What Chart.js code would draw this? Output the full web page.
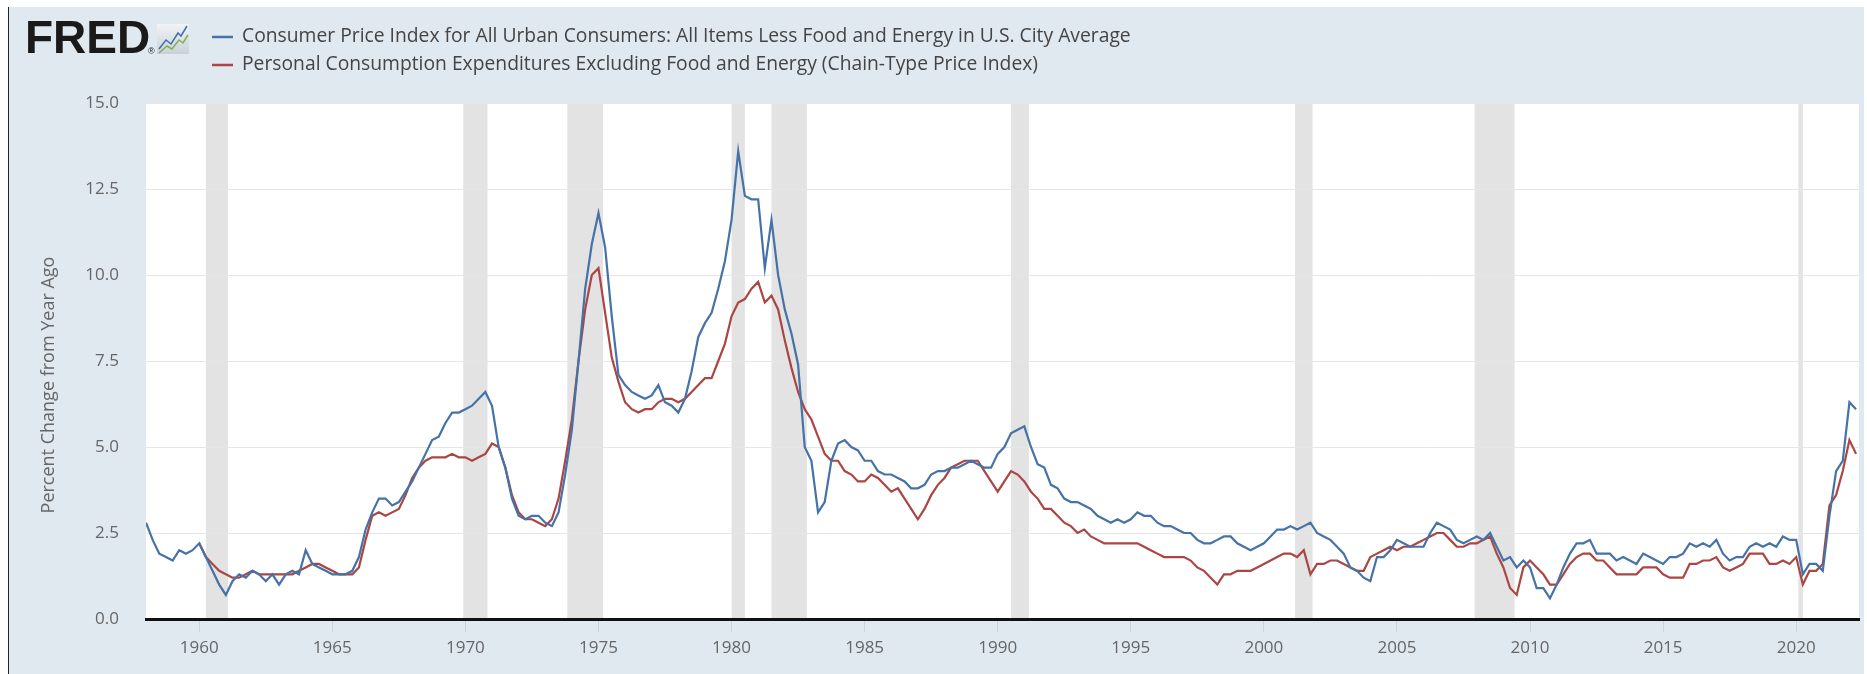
<!DOCTYPE html>
<html>
<head>
<meta charset="utf-8">
<title>FRED core CPI vs core PCE</title>
<script src="https://cdn.jsdelivr.net/npm/chart.js@4.4.1/dist/chart.umd.min.js"></script>
<style>
    html, body { margin: 0; padding: 0; background: #fff; }
    #wrap { position: absolute; left: 8px; top: 7px; width: 1855px; height: 667px; background: #e1e9f0; border-left: 1px solid #222; }
    #chart { display: block; }
</style>
</head>
<body>
<div id="wrap"><canvas id="chart" width="1855" height="667"></canvas></div>
<script>
    // quarterly readings (Jan, Apr, Jul, Oct), percent change from year ago
    const cpiStart = 1958;
    const cpiCore = [
        2.8, 2.3, 1.9, 1.8,   1.7, 2.0, 1.9, 2.0,   2.2, 1.8, 1.4, 1.0,
        0.7, 1.1, 1.3, 1.2,   1.4, 1.3, 1.1, 1.3,   1.0, 1.3, 1.4, 1.3,
        2.0, 1.6, 1.5, 1.4,   1.3, 1.3, 1.3, 1.4,   1.8, 2.6, 3.1, 3.5,
        3.5, 3.3, 3.4, 3.7,   4.0, 4.4, 4.8, 5.2,   5.3, 5.7, 6.0, 6.0,
        6.1, 6.2, 6.4, 6.6,   6.2, 5.0, 4.4, 3.5,   3.0, 2.9, 3.0, 3.0,
        2.8, 2.7, 3.1, 4.2,   5.5, 7.5, 9.6, 10.9,  11.8, 10.8, 8.8, 7.1,
        6.8, 6.6, 6.5, 6.4,   6.5, 6.8, 6.3, 6.2,   6.0, 6.4, 7.2, 8.2,
        8.6, 8.9, 9.6, 10.4,  11.6, 13.6, 12.3, 12.2, 12.2, 10.2, 11.6, 10.0,
        9.0, 8.3, 7.4, 5.0,   4.6, 3.1, 3.4, 4.6,   5.1, 5.2, 5.0, 4.9,
        4.6, 4.6, 4.3, 4.2,   4.2, 4.1, 4.0, 3.8,   3.8, 3.9, 4.2, 4.3,
        4.3, 4.4, 4.4, 4.5,   4.6, 4.5, 4.4, 4.4,   4.8, 5.0, 5.4, 5.5,
        5.6, 5.0, 4.5, 4.4,   3.9, 3.8, 3.5, 3.4,   3.4, 3.3, 3.2, 3.0,
        2.9, 2.8, 2.9, 2.8,   2.9, 3.1, 3.0, 3.0,   2.8, 2.7, 2.7, 2.6,
        2.5, 2.5, 2.3, 2.2,   2.2, 2.3, 2.4, 2.4,   2.2, 2.1, 2.0, 2.1,
        2.2, 2.4, 2.6, 2.6,   2.7, 2.6, 2.7, 2.8,   2.5, 2.4, 2.3, 2.1,
        1.9, 1.5, 1.4, 1.2,   1.1, 1.8, 1.8, 2.0,   2.3, 2.2, 2.1, 2.1,
        2.1, 2.5, 2.8, 2.7,   2.6, 2.3, 2.2, 2.3,   2.4, 2.3, 2.5, 2.1,
        1.7, 1.8, 1.5, 1.7,   1.5, 0.9, 0.9, 0.6,   1.0, 1.5, 1.9, 2.2,
        2.2, 2.3, 1.9, 1.9,   1.9, 1.7, 1.8, 1.7,   1.6, 1.9, 1.8, 1.7,
        1.6, 1.8, 1.8, 1.9,   2.2, 2.1, 2.2, 2.1,   2.3, 1.9, 1.7, 1.8,
        1.8, 2.1, 2.2, 2.1,   2.2, 2.1, 2.4, 2.3,   2.3, 1.3, 1.6, 1.6,
        1.4, 3.0, 4.3, 4.6,   6.3, 6.1
    ];
    const pceStart = 1960;
    const pceCore = [
        2.2, 1.8, 1.6, 1.4,
        1.3, 1.2, 1.2, 1.3,   1.4, 1.3, 1.3, 1.3,   1.3, 1.3, 1.3, 1.4,
        1.5, 1.6, 1.6, 1.5,   1.4, 1.3, 1.3, 1.3,   1.5, 2.3, 3.0, 3.1,
        3.0, 3.1, 3.2, 3.6,   4.1, 4.4, 4.6, 4.7,   4.7, 4.7, 4.8, 4.7,
        4.7, 4.6, 4.7, 4.8,   5.1, 5.0, 4.4, 3.6,   3.1, 2.9, 2.9, 2.8,
        2.7, 2.9, 3.5, 4.6,   5.8, 7.5, 9.0, 10.0,  10.2, 8.9, 7.6, 6.9,
        6.3, 6.1, 6.0, 6.1,   6.1, 6.3, 6.4, 6.4,   6.3, 6.4, 6.6, 6.8,
        7.0, 7.0, 7.5, 8.0,   8.8, 9.2, 9.3, 9.6,   9.8, 9.2, 9.4, 9.0,
        8.1, 7.3, 6.6, 6.1,   5.8, 5.3, 4.8, 4.6,   4.6, 4.3, 4.2, 4.0,
        4.0, 4.2, 4.1, 3.9,   3.7, 3.8, 3.5, 3.2,   2.9, 3.2, 3.6, 3.9,
        4.1, 4.4, 4.5, 4.6,   4.6, 4.6, 4.3, 4.0,   3.7, 4.0, 4.3, 4.2,
        4.0, 3.7, 3.5, 3.2,   3.2, 3.0, 2.8, 2.7,   2.5, 2.6, 2.4, 2.3,
        2.2, 2.2, 2.2, 2.2,   2.2, 2.2, 2.1, 2.0,   1.9, 1.8, 1.8, 1.8,
        1.8, 1.7, 1.5, 1.4,   1.2, 1.0, 1.3, 1.3,   1.4, 1.4, 1.4, 1.5,
        1.6, 1.7, 1.8, 1.9,   1.9, 1.8, 2.0, 1.3,   1.6, 1.6, 1.7, 1.7,
        1.6, 1.5, 1.4, 1.4,   1.8, 1.9, 2.0, 2.1,   2.0, 2.1, 2.1, 2.2,
        2.3, 2.4, 2.5, 2.5,   2.3, 2.1, 2.1, 2.2,   2.2, 2.3, 2.4, 1.9,
        1.5, 0.9, 0.7, 1.5,   1.7, 1.5, 1.3, 1.0,   1.0, 1.3, 1.6, 1.8,
        1.9, 1.9, 1.7, 1.7,   1.5, 1.3, 1.3, 1.3,   1.3, 1.5, 1.5, 1.5,
        1.3, 1.2, 1.2, 1.2,   1.6, 1.6, 1.7, 1.7,   1.8, 1.5, 1.4, 1.5,
        1.6, 1.9, 1.9, 1.9,   1.6, 1.6, 1.7, 1.6,   1.8, 1.0, 1.4, 1.4,
        1.6, 3.3, 3.6, 4.3,   5.2, 4.8
    ];
    const recessionStart = [1960.25, 1969.92, 1973.83, 1980.0, 1981.5, 1990.5, 2001.17, 2007.92, 2020.08];
    const recessionEnd   = [1961.08, 1970.83, 1975.17, 1980.5, 1982.83, 1991.17, 2001.83, 2009.42, 2020.25];
    const tickYears = [1960, 1965, 1970, 1975, 1980, 1985, 1990, 1995, 2000, 2005, 2010, 2015, 2020];
    const seriesNames = [
        'Consumer Price Index for All Urban Consumers: All Items Less Food and Energy in U.S. City Average',
        'Personal Consumption Expenditures Excluding Food and Energy (Chain-Type Price Index)'
    ];
    const seriesColors = ['#4572a7', '#aa4643'];
    const yTitle = 'Percent Change from Year Ago';

    function toPoints(start, vals) {
        return vals.map((v, k) => ({ x: start + k / 4, y: v }));
    }

    const FONT = '"Open Sans", "Noto Sans", sans-serif';

    const backdrop = {
        id: 'backdrop',
        beforeDraw(chart) {
            const { ctx, chartArea: a, scales } = chart;
            ctx.save();
            ctx.fillStyle = '#ffffff';
            ctx.fillRect(a.left, a.top, a.right - a.left, a.bottom - a.top);
            ctx.fillStyle = '#e3e3e3';
            for (let r = 0; r < recessionStart.length; r++) {
                const x1 = scales.x.getPixelForValue(recessionStart[r]);
                const x2 = scales.x.getPixelForValue(recessionEnd[r]);
                ctx.fillRect(x1, a.top, x2 - x1, a.bottom - a.top);
            }
            ctx.restore();
        }
    };

    const header = {
        id: 'header',
        afterDraw(chart) {
            const ctx = chart.ctx;
            ctx.save();
            // FRED logo
            ctx.fillStyle = '#1a1a1a';
            ctx.font = 'bold 46px "Liberation Sans", Arial, sans-serif';
            ctx.textBaseline = 'alphabetic';
            ctx.fillText('FRED', 16, 46);
            ctx.font = '9px "Liberation Sans", sans-serif';
            ctx.fillText('®', 139, 47);
            const g = ctx.createLinearGradient(148, 15, 148, 47);
            g.addColorStop(0, '#f4f6f8');
            g.addColorStop(1, '#c9d1d8');
            ctx.fillStyle = g;
            ctx.fillRect(148, 17, 32, 30);
            ctx.lineWidth = 1.5;
            ctx.strokeStyle = '#3f6fb0';
            ctx.beginPath();
            ctx.moveTo(150, 42); ctx.lineTo(157, 33); ctx.lineTo(162, 37); ctx.lineTo(169, 26); ctx.lineTo(172, 29); ctx.lineTo(178, 19);
            ctx.stroke();
            ctx.strokeStyle = '#7fb24a';
            ctx.beginPath();
            ctx.moveTo(150, 46); ctx.lineTo(158, 39); ctx.lineTo(163, 42); ctx.lineTo(170, 33); ctx.lineTo(174, 36); ctx.lineTo(179, 28);
            ctx.stroke();
            // legend lines
            ctx.font = '19.3px ' + FONT;
            ctx.textBaseline = 'middle';
            seriesNames.forEach((name, k) => {
                const y = 30 + k * 28;
                ctx.strokeStyle = seriesColors[k];
                ctx.lineWidth = 2.5;
                ctx.beginPath();
                ctx.moveTo(203, y); ctx.lineTo(224, y);
                ctx.stroke();
                ctx.fillStyle = '#444';
                ctx.fillText(name, 233, y);
            });
            // y axis title
            ctx.translate(40, 378);
            ctx.rotate(-Math.PI / 2);
            ctx.textAlign = 'center';
            ctx.fillStyle = '#666';
            ctx.font = '18px ' + FONT;
            ctx.fillText(yTitle, 0, 0);
            ctx.restore();
        }
    };

    new Chart(document.getElementById('chart'), {
        type: 'line',
        data: {
            datasets: [
                { label: seriesNames[0], data: toPoints(cpiStart, cpiCore), borderColor: seriesColors[0], backgroundColor: seriesColors[0], borderWidth: 2.2, pointRadius: 0, tension: 0 },
                { label: seriesNames[1], data: toPoints(pceStart, pceCore), borderColor: seriesColors[1], backgroundColor: seriesColors[1], borderWidth: 2.2, pointRadius: 0, tension: 0 }
            ]
        },
        options: {
            responsive: false,
            animation: false,
            events: [],
            layout: { padding: { top: 96, right: 5, left: 0, bottom: 0 } },
            plugins: { legend: { display: false }, tooltip: { enabled: false } },
            scales: {
                x: {
                    type: 'linear',
                    min: 1958,
                    max: 2022.36,
                    afterFit(s) { s.height = 55; },
                    afterBuildTicks(s) { s.ticks = tickYears.map(v => ({ value: v })); },
                    border: { display: true, color: '#111', width: 3 },
                    grid: { drawOnChartArea: false, drawTicks: true, tickLength: 13, color: '#c8d3de' },
                    ticks: { padding: 6, color: '#666', font: { family: FONT, size: 17 }, maxRotation: 0, autoSkip: false, callback: v => String(v) }
                },
                y: {
                    min: 0,
                    max: 15,
                    afterFit(s) { s.width = 137; },
                    border: { display: false },
                    grid: { color: '#e6e6e6', drawTicks: false },
                    ticks: { stepSize: 2.5, padding: 27, color: '#666', font: { family: FONT, size: 17 }, callback: v => v.toFixed(1) }
                }
            }
        },
        plugins: [backdrop, header]
    });
</script>
</body>
</html>
